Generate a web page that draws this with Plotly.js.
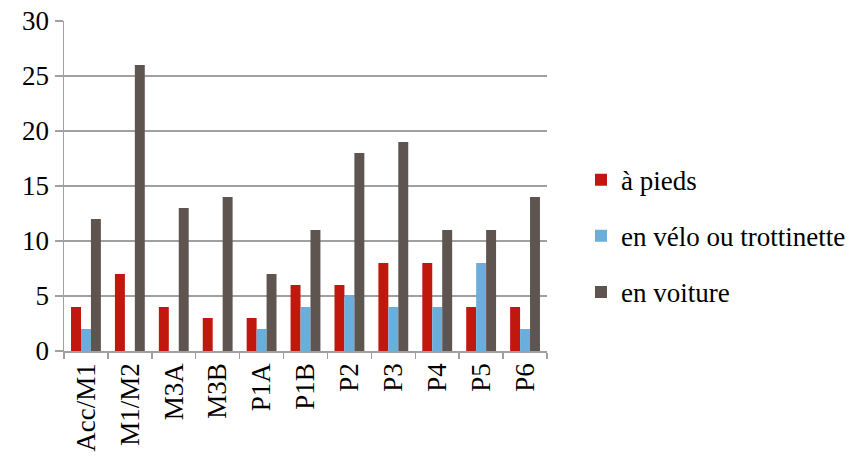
<!DOCTYPE html>
<html><head><meta charset="utf-8">
<script src="https://cdn.plot.ly/plotly-3.0.1.min.js"></script>
<style>body{margin:0;background:#fff}#c{width:862px;height:463px}</style>
</head><body><div id="c"></div>
<script>
const categories = ["Acc/M1","M1/M2","M3A","M3B","P1A","P1B","P2","P3","P4","P5","P6"];
const aPieds = [4,7,4,3,3,6,6,8,8,4,4];
const enVelo = [2,0,0,0,2,4,5,4,4,8,2];
const enVoiture = [12,26,13,14,7,11,18,19,11,11,14];
const seriesNames = ["à pieds","en vélo ou trottinette","en voiture"];
const colors = ["#C0180C","#6AAEDB","#5F5550"];
const fam = "Liberation Serif";
const data = [aPieds, enVelo, enVoiture].map((v,i)=>({
  type:"bar", x:categories, y:v, name:seriesNames[i], legendgroup:"g"+i,
  marker:{color:colors[i]}
}));
Plotly.newPlot("c", data, {
  width:862, height:463,
  margin:{l:64, r:315, t:21, b:112},
  paper_bgcolor:"#fff", plot_bgcolor:"#fff",
  barmode:"group", bargap:0.32, bargroupgap:0,
  font:{family:fam, size:27, color:"#000"},
  xaxis:{type:"category", tickangle:-90, showline:true, linecolor:"#A0A0A0", linewidth:1.5,
    ticks:"outside", tickson:"boundaries", ticklen:6, tickcolor:"#A0A0A0", tickwidth:1.5,
    showgrid:false, automargin:false, tickfont:{family:fam, size:27, color:"#000"}},
  yaxis:{range:[0,30], dtick:5, showline:true, linecolor:"#A0A0A0", linewidth:1.5,
    ticks:"outside", ticklen:8, tickcolor:"#A0A0A0", tickwidth:1.5, automargin:false,
    gridcolor:"#A0A0A0", gridwidth:1.5, zeroline:false, tickfont:{family:fam, size:27, color:"#000"}},
  legend:{xref:"container", yref:"container", x:0.674, xanchor:"left", y:0.49, yanchor:"middle", traceorder:"grouped",
    tracegroupgap:18, font:{family:fam, size:27, color:"#000"}, itemwidth:30}
}, {displayModeBar:false, staticPlot:true});
</script></body></html>
